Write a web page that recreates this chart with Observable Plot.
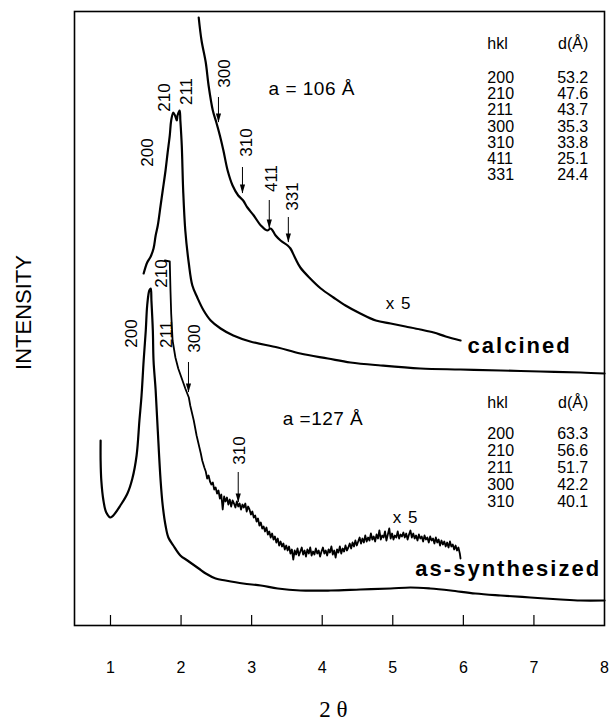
<!DOCTYPE html>
<html><head><meta charset="utf-8">
<script src="https://cdn.jsdelivr.net/npm/d3@7"></script>
<script src="https://cdn.jsdelivr.net/npm/@observablehq/plot@0.6"></script>
<style>body{margin:0;background:#fff;} svg{display:block}</style>
</head><body><div id="chart"></div>
<script>
// 2θ (deg) vs intensity (arbitrary units)
const xTicks = [1, 2, 3, 4, 5, 6, 7, 8];
const innerTicks = [1, 2, 3, 4, 5, 6, 7];

const calcined = [
[1.47,352],[1.52,363],[1.57,369],[1.61,377],[1.64,390],[1.67,400],[1.71,420],[1.74,435],[1.78,455],[1.81,473],
[1.84,490],[1.86,505],[1.89,513],[1.92,509],[1.94,505],[1.95,510],[1.98,515],[1.99,505],[2.01,480],[2.03,435],
[2.06,395],[2.11,362],[2.16,340],[2.23,328],[2.32,315],[2.42,305],[2.56,297],[2.74,290],[2.98,284],[3.37,278],
[3.69,272],[4.08,267],[4.40,263],[4.83,260],[5.39,257],[5.96,256],[6.53,255],[7.09,254],[7.66,253],[8.00,252]
];
const calcinedX5 = [
[2.25,608],[2.29,585],[2.35,563],[2.39,540],[2.45,515],[2.50,503],[2.55,490],[2.60,475],[2.66,455],[2.73,440],
[2.81,430],[2.88,425],[2.94,418],[3.03,410],[3.13,400],[3.22,395],[3.27,397],[3.34,390],[3.41,385],[3.51,380],
[3.55,377],[3.62,367],[3.69,358],[3.83,347],[3.98,337],[4.16,328],[4.33,320],[4.54,312],[4.76,305],[4.97,302],
[5.18,299],[5.39,296],[5.58,293],[5.75,289],[5.96,285]
];
const asSynth = [
[0.86,185],[0.86,165],[0.87,145],[0.90,125],[0.94,113],[1.00,108],[1.04,110],[1.14,120],[1.24,132],[1.31,147],
[1.37,170],[1.41,205],[1.44,230],[1.47,265],[1.50,295],[1.52,320],[1.55,335],[1.57,337],[1.58,325],[1.60,295],
[1.61,265],[1.64,235],[1.67,195],[1.71,145],[1.74,120],[1.78,100],[1.82,88],[1.89,80],[1.99,70],[2.09,65],
[2.25,57],[2.35,52],[2.49,47],[2.63,45],[2.88,42],[3.13,40],[3.37,37],[3.69,35],[4.12,35],[4.54,36],[4.97,37],
[5.25,38],[5.53,37],[5.82,35],[6.17,32],[6.53,30],[6.95,28],[7.38,26],[7.66,25],[8.00,25]
];
const asSynthX5 = [
[1.77,365],[1.84,364],[1.85,335],[1.86,312],[1.88,285],[1.92,268],[1.96,257],[2.02,245],[2.06,237],[2.11,228],
[2.13,220],[2.18,205],[2.22,190],[2.26,178],[2.28,172],[2.30,165],[2.33,158],[2.35,154],[2.37,147],[2.39,150],
[2.41,144],[2.43,141],[2.45,143],[2.47,136],[2.49,138],[2.51,132],[2.53,135],[2.55,127],[2.57,131],[2.59,116],
[2.61,129],[2.63,124],[2.65,128],[2.67,121],[2.69,126],[2.71,119],[2.73,125],[2.75,122],[2.77,118],[2.79,124],
[2.81,119],[2.83,122],[2.85,116],[2.87,121],[2.89,118],[2.91,122],[2.93,114],[2.95,119],[2.97,116],[2.99,111],
[3.01,114],[3.03,108],[3.05,110],[3.07,104],[3.09,107],[3.11,100],[3.13,103],[3.15,97],[3.17,99],[3.19,94],
[3.21,98],[3.23,91],[3.25,94],[3.27,88],[3.29,92],[3.31,86],[3.33,89],[3.35,83],[3.37,87],[3.39,80],
[3.41,84],[3.43,79],[3.45,82],[3.47,76],[3.49,80],[3.51,75],[3.53,79],[3.55,72],[3.57,76],[3.59,66],
[3.61,75],[3.63,71],[3.65,77],[3.67,70],[3.69,74],[3.71,78],[3.73,71],[3.75,75],[3.77,69],[3.79,76],
[3.81,72],[3.83,78],[3.85,70],[3.87,74],[3.89,71],[3.91,77],[3.93,72],[3.95,75],[3.97,69],[3.99,74],
[4.01,78],[4.03,72],[4.05,75],[4.07,70],[4.09,76],[4.11,73],[4.13,79],[4.15,71],[4.17,75],[4.19,68],
[4.21,76],[4.23,73],[4.25,79],[4.27,72],[4.29,77],[4.31,74],[4.33,80],[4.35,75],[4.37,78],[4.39,82],
[4.41,77],[4.43,83],[4.45,79],[4.47,85],[4.49,80],[4.51,84],[4.53,88],[4.55,82],[4.57,87],[4.59,83],
[4.61,90],[4.63,84],[4.65,88],[4.67,85],[4.69,92],[4.71,86],[4.73,89],[4.75,84],[4.77,91],[4.79,87],
[4.81,95],[4.83,86],[4.85,90],[4.87,88],[4.89,94],[4.91,85],[4.93,91],[4.95,97],[4.97,87],[4.99,92],
[5.01,86],[5.03,90],[5.05,88],[5.07,94],[5.09,87],[5.11,91],[5.13,89],[5.15,93],[5.17,88],[5.19,92],
[5.21,86],[5.23,91],[5.25,95],[5.27,88],[5.29,92],[5.31,87],[5.33,90],[5.35,85],[5.37,91],[5.39,87],
[5.41,89],[5.43,84],[5.45,90],[5.47,86],[5.49,88],[5.51,83],[5.53,89],[5.55,85],[5.57,87],[5.59,82],
[5.61,88],[5.63,83],[5.65,86],[5.67,80],[5.69,85],[5.71,81],[5.73,84],[5.75,79],[5.77,83],[5.79,78],
[5.81,84],[5.83,79],[5.85,81],[5.87,76],[5.89,80],[5.91,75],[5.93,78],[5.95,72],[5.96,67]
];

// reflection labels (rotated) and arrows
const peakLabels = [
  {t:"200", x:1.53, y:473}, {t:"210", x:1.77, y:528}, {t:"211", x:2.08, y:534},
  {t:"300", x:2.62, y:552}, {t:"310", x:2.93, y:483}, {t:"411", x:3.28, y:447}, {t:"331", x:3.58, y:429},
  {t:"200", x:1.30, y:292}, {t:"210", x:1.72, y:352}, {t:"211", x:1.79, y:291},
  {t:"300", x:2.19, y:287}, {t:"310", x:2.83, y:175}
];
const arrows = [
  {x:2.53, y1:528, y2:503}, {x:2.87, y1:458, y2:432}, {x:3.25, y1:425, y2:397}, {x:3.52, y1:408, y2:383},
  {x:2.105, y1:263, y2:233}, {x:2.81, y1:153, y2:123}
];

// d-spacing tables
const calcHkl = ["200","210","211","300","310","411","331"];
const calcD = ["53.2","47.6","43.7","35.3","33.8","25.1","24.4"];
const asHkl = ["200","210","211","300","310"];
const asD = ["63.3","56.6","51.7","42.2","40.1"];
const tableColX = [6.34, 7.77];
const calcTableTop = 582, calcRowStart = 548, calcRowStep = 16.3;
const asTableTop = 223, asRowStart = 192, asRowStep = 17;

const latticeNotes = [{t:"a = 106 Å", x:3.24, y:537}, {t:"a =127 Å", x:3.44, y:207}];
const scaleNotes = [{t:"x 5", x:4.90, y:322}, {t:"x 5", x:5.00, y:108}];
const sampleNames = [{t:"calcined", x:6.06, y:280}, {t:"as-synthesized", x:5.32, y:57}];

const font = "'Liberation Sans', Arial, Helvetica, sans-serif";

const leftCol = [], rightCol = [];
leftCol.push({t:"hkl", y:calcTableTop}); rightCol.push({t:"d(Å)", y:calcTableTop});
calcHkl.forEach((h,i)=>{ leftCol.push({t:h, y:calcRowStart - i*calcRowStep}); rightCol.push({t:calcD[i], y:calcRowStart - i*calcRowStep}); });
leftCol.push({t:"hkl", y:asTableTop}); rightCol.push({t:"d(Å)", y:asTableTop});
asHkl.forEach((h,i)=>{ leftCol.push({t:h, y:asRowStart - i*asRowStep}); rightCol.push({t:asD[i], y:asRowStart - i*asRowStep}); });

const smooth = [calcined, calcinedX5, asSynth];

const chart = Plot.plot({
  width: 611, height: 726,
  marginLeft: 74, marginRight: 7, marginTop: 11, marginBottom: 101,
  style: {fontFamily: font, fontSize: "16px", background: "#fff", color: "#000"},
  x: {domain: [0.49, 8], axis: null},
  y: {domain: [0, 614], axis: null},
  marks: [
    Plot.axisX(innerTicks, {tickSize: -10, tickFormat: () => "", strokeWidth: 1.2, label: null}),
    Plot.axisX(xTicks, {tickSize: 0, tickPadding: 36, fontSize: 16, label: null}),
    ...smooth.map(s => Plot.line(s, {x: d => d[0], y: d => d[1], stroke: "#000", strokeWidth: 2.2, curve: "catmull-rom"})),
    Plot.line(asSynthX5, {x: d => d[0], y: d => d[1], stroke: "#000", strokeWidth: 1.8}),
    Plot.ruleX(arrows, {x: "x", y1: "y1", y2: "y2", stroke: "#000", strokeWidth: 1}),
    Plot.vector(arrows, {x: "x", y: "y2", length: 9, rotate: 180, shape: "spike", anchor: "end", r: 2.6, fill: "#000", stroke: "none"}),
    Plot.text(peakLabels, {x: "x", y: "y", text: "t", rotate: -90, fontSize: 17, fill: "#000"}),
    Plot.text(leftCol, {x: () => tableColX[0], y: "y", text: "t", textAnchor: "start", fontSize: 16, fill: "#000"}),
    Plot.text(rightCol, {x: () => tableColX[1], y: "y", text: "t", textAnchor: "end", fontSize: 16, fill: "#000"}),
    Plot.text(latticeNotes, {x: "x", y: "y", text: "t", textAnchor: "start", fontSize: 19, fill: "#000"}),
    Plot.text(scaleNotes, {x: "x", y: "y", text: "t", textAnchor: "start", fontSize: 17, fill: "#000"}),
    Plot.text(sampleNames, {x: "x", y: "y", text: "t", textAnchor: "start", fontSize: 22, fontWeight: "bold", fill: "#000"}),
    Plot.text(["INTENSITY"], {frameAnchor: "left", textAnchor: "middle", dx: -51, dy: -6, rotate: -90, fontSize: 22, fill: "#000"}),
    Plot.text(["2 θ"], {frameAnchor: "bottom", textAnchor: "middle", dx: -6, dy: 91, fontSize: 23, fontFamily: "'Liberation Serif', 'Times New Roman', serif", fill: "#000"}),
    Plot.frame({stroke: "#000", strokeWidth: 1.6})
  ]
});
document.getElementById("chart").append(chart);
// letter spacing to match the wide original lettering
d3.select(chart).selectAll("text").each(function(){
  const t = this.textContent;
  if (sampleNames.some(n => n.t === t)) this.setAttribute("letter-spacing", "2px");
  else if (scaleNotes.some(n => n.t === t)) this.setAttribute("letter-spacing", "1px");
  else if (latticeNotes.some(n => n.t === t)) this.setAttribute("letter-spacing", "0.5px");
});
</script></body></html>
